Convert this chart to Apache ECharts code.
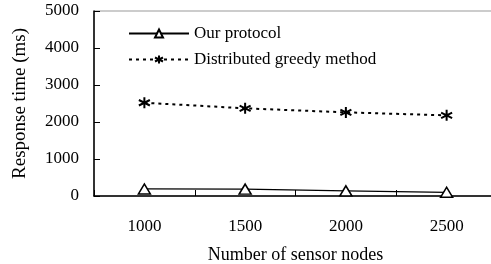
<!DOCTYPE html>
<html>
<head>
<meta charset="UTF-8">
<title>Response time</title>
<script src="https://cdn.jsdelivr.net/npm/echarts@6/dist/echarts.min.js"></script>
<style>
    * { margin: 0; padding: 0; }
    body { background: #fff; }
    #chart { width: 491px; height: 264px; }
</style>
</head>
<body>
<div id="chart"></div>
<script>
    // data
    const nodes = ['1000', '1500', '2000', '2500'];
    const ourProtocol = [190, 185, 140, 100];
    const greedy = [2520, 2370, 2260, 2180];
    const yTicks = [0, 1000, 2000, 3000, 4000, 5000];

    const serif = 'Liberation Serif';
    const asterisk = 'path://M5,0 L5,10 M0.7,2.5 L9.3,7.5 M0.7,7.5 L9.3,2.5';

    const chart = echarts.init(document.getElementById('chart'));
    chart.setOption({
        animation: false,
        grid: {
            left: 94, top: 11, width: 403, bottom: 68,
            outerBoundsMode: 'none',
            containLabel: false,
            show: true, borderColor: '#999', borderWidth: 1
        },
        legend: {
            orient: 'vertical',
            left: 123, top: 20,
            itemWidth: 60, itemHeight: 10, itemGap: 9,
            textStyle: { fontFamily: serif, fontSize: 17, color: '#000' },
            data: ['Our protocol', 'Distributed greedy method']
        },
        xAxis: {
            type: 'category',
            data: nodes,
            boundaryGap: true,
            name: 'Number of sensor nodes',
            nameLocation: 'middle',
            nameGap: 50,
            nameTextStyle: { fontFamily: serif, fontSize: 18, color: '#000' },
            axisLine: { lineStyle: { color: '#000', width: 1.5 } },
            axisTick: { show: true, inside: true, length: 6, interval: 0, lineStyle: { color: '#000', width: 1 } },
            axisLabel: { fontFamily: serif, fontSize: 17, color: '#000', margin: 22 }
        },
        yAxis: {
            type: 'value',
            min: yTicks[0], max: yTicks[yTicks.length - 1], interval: 1000,
            name: 'Response time (ms)',
            nameLocation: 'middle',
            nameGap: 64,
            nameTextStyle: { fontFamily: serif, fontSize: 19, color: '#000' },
            axisLine: { show: true, lineStyle: { color: '#000', width: 1.5 } },
            axisTick: { show: true, inside: true, length: 6, lineStyle: { color: '#000' } },
            axisLabel: {
                fontFamily: serif, fontSize: 17, color: '#000', margin: 15,
                formatter: v => String(v)
            },
            splitLine: { show: false }
        },
        series: [
            {
                name: 'Our protocol',
                type: 'line',
                data: ourProtocol,
                symbol: 'triangle',
                symbolSize: [12, 10],
                lineStyle: { color: '#000', width: 1.2 },
                itemStyle: { color: '#fff', borderColor: '#000', borderWidth: 1.5 }
            },
            {
                name: 'Distributed greedy method',
                type: 'line',
                data: greedy,
                symbol: asterisk,
                symbolSize: 11,
                lineStyle: { color: '#000', width: 2, type: [3, 4] },
                itemStyle: { color: 'none', borderColor: '#000', borderWidth: 2 }
            }
        ]
    });
</script>
</body>
</html>
